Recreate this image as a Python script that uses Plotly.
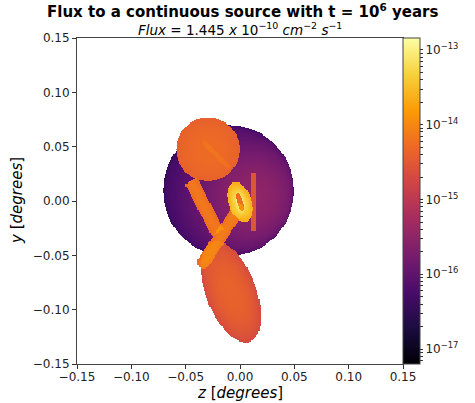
import numpy as np
import plotly.graph_objects as go

# ---- axes / ticks ----
axis_ticks = [-0.15, -0.10, -0.05, 0.00, 0.05, 0.10, 0.15]
cbar_exponents = [-17, -16, -15, -14, -13]
cbar_range = [-17.2, -12.84]
grid_n = 300

# ---- source components (centre z, centre y, sizes, fluxes) ----
disc_center = [-0.0105, 0.0095]
disc_radius = 0.0603
disc_floor_flux = 2.4e-17
disc_base_flux = 3.4e-17
disc_peak_flux = 2.8e-16
disc_peak_center = [0.018, 0.002]
disc_peak_sigma = 0.034

circle_center = [-0.0295, 0.0475]
circle_radius = 0.0292
circle_flux = 3.9e-15
circle_core_flux = 1.3e-15

streak_start = [-0.034, 0.0543]
streak_end = [-0.0092, 0.030]
streak_halfwidth = 0.0022
streak_flux = 1.2e-15

left_bar_start = [-0.0451, 0.0184]
left_bar_end = [-0.0203, -0.0294]
left_bar_halfwidth = 0.0063
left_bar_flux = 6.0e-15

low_bar_start = [-0.0019, -0.0082]
low_bar_end = [-0.0335, -0.0565]
low_bar_halfwidth = 0.0059
low_bar_flux = 6.5e-15

vbar_z = 0.0124
vbar_halfwidth = 0.0024
vbar_y = [-0.0276, 0.026]
vbar_flux = 2.6e-15

ellipse_center = [-0.0083, -0.0837]
ellipse_axes = [0.049, 0.023]   # semi-major, semi-minor
ellipse_tilt_deg = 21
ellipse_edge_flux = 2.0e-15
ellipse_core_flux = 2.2e-15

ring_center = [0.0, -0.0009]
ring_outer_axes = [0.0190, 0.0105]
ring_inner_axes = [0.0085, 0.0028]
ring_tilt_deg = 18
ring_edge_flux = 2.2e-14
ring_hole_flux = 5.5e-15

# ---- build image ----
coords = np.linspace(-0.15, 0.15, grid_n)
Z, Y = np.meshgrid(coords, coords)
F = np.zeros_like(Z)


def rot_rho(cz, cy, a_major, a_minor, tilt):
    t = np.deg2rad(tilt)
    dz, dy = Z - cz, Y - cy
    p = -dz * np.sin(t) + dy * np.cos(t)
    q = dz * np.cos(t) + dy * np.sin(t)
    return np.sqrt((p / a_major) ** 2 + (q / a_minor) ** 2)


def seg(start, end, hw, capsule=False):
    sz, sy = start
    ez, ey = end
    vz, vy = ez - sz, ey - sy
    L2 = vz * vz + vy * vy
    t = ((Z - sz) * vz + (Y - sy) * vy) / L2
    tc = np.clip(t, 0, 1)
    d = np.hypot(Z - (sz + tc * vz), Y - (sy + tc * vy))
    if capsule:
        m = d <= hw
    else:
        m = (t >= 0) & (t <= 1) & (d <= hw)
    return m, d


# disc
r = np.hypot(Z - disc_center[0], Y - disc_center[1])
m = r <= disc_radius
limb = np.clip(1 - (r / disc_radius) ** 2, 0, 1) ** 0.25
dp = np.hypot(Z - disc_peak_center[0], Y - disc_peak_center[1])
F[m] += (disc_floor_flux + (disc_base_flux + disc_peak_flux *
         np.exp(-dp ** 2 / (2 * disc_peak_sigma ** 2))) * limb)[m]

# circle
r = np.hypot(Z - circle_center[0], Y - circle_center[1])
m = r <= circle_radius
F[m] += (circle_flux + circle_core_flux * (1 - (r / circle_radius) ** 2))[m]
ms, d = seg(streak_start, streak_end, streak_halfwidth)
ms &= m
F[ms] += streak_flux

# bars
mb, d = seg(left_bar_start, left_bar_end, left_bar_halfwidth)
F[mb] += (left_bar_flux * (0.8 + 0.35 * (1 - (d / left_bar_halfwidth) ** 2)))[mb]
mb, d = seg(low_bar_start, low_bar_end, low_bar_halfwidth, capsule=True)
F[mb] += (low_bar_flux * (0.8 + 0.35 * (1 - (d / low_bar_halfwidth) ** 2)))[mb]
mv = (np.abs(Z - vbar_z) <= vbar_halfwidth) & (Y >= vbar_y[0]) & (Y <= vbar_y[1])
F[mv] += vbar_flux

# ellipse
rho = rot_rho(ellipse_center[0], ellipse_center[1], ellipse_axes[0], ellipse_axes[1], ellipse_tilt_deg)
m = rho <= 1
F[m] += (ellipse_edge_flux + ellipse_core_flux * (1 - rho ** 2))[m]

# ring
rho_o = rot_rho(ring_center[0], ring_center[1], ring_outer_axes[0], ring_outer_axes[1], ring_tilt_deg)
rho_i = rot_rho(ring_center[0], ring_center[1], ring_inner_axes[0], ring_inner_axes[1], ring_tilt_deg)
m_ring = (rho_o <= 1) & (rho_i > 1)
F[m_ring] += (ring_edge_flux * np.clip(rho_o, 0.3, 1) ** -1.2)[m_ring]
F[rho_i <= 1] += ring_hole_flux

logF = np.where(F > 0, np.log10(np.where(F > 0, F, 1)), np.nan)

# ---- colorbar ticks ----
cb_vals, cb_text = [], []
for e in range(-18, -12):
    for k in range(1, 10):
        v = e + np.log10(k)
        if cbar_range[0] <= v <= cbar_range[1]:
            cb_vals.append(v)
            cb_text.append(f"10<sup>\u2212{abs(e)}</sup>" if k == 1 else "")

font = "DejaVu Sans"
fig = go.Figure(go.Heatmap(
    x=coords, y=coords, z=logF,
    colorscale="Inferno", zmin=cbar_range[0], zmax=cbar_range[1],
    hoverongaps=False,
    colorbar=dict(
        x=1.0, xanchor="left", xref="paper", xpad=0, ypad=0,
        y=0.5, yanchor="middle", len=1, lenmode="fraction",
        thickness=17, outlinewidth=1, outlinecolor="#444",
        tickmode="array", tickvals=cb_vals, ticktext=cb_text,
        ticks="outside", ticklen=3, tickcolor="#333",
        tickfont=dict(family=font, size=12, color="#222"),
    ),
))

axis_common = dict(
    range=[-0.15, 0.15], tickmode="array", tickvals=axis_ticks,
    tickformat=".2f", ticks="outside", ticklen=4, tickcolor="#333",
    showline=True, linecolor="#444", linewidth=1, mirror=True,
    showgrid=False, zeroline=False,
    tickfont=dict(family=font, size=12, color="#222"),
)
fig.update_xaxes(**axis_common, ticklabelstandoff=-2)
fig.update_yaxes(**axis_common)

fig.update_layout(
    width=475, height=403,
    margin=dict(l=77, r=72, t=38, b=39),
    paper_bgcolor="white", plot_bgcolor="white",
    showlegend=False,
    annotations=[
        dict(text="<b>Flux to a continuous source with t = 10<sup>6</sup> years</b>",
             xref="paper", yref="paper", x=0.508, y=1.083, xanchor="center", yanchor="middle",
             showarrow=False, font=dict(family=font, size=15, color="black")),
        dict(text="<i>Flux</i> = 1.445 <i>x</i> 10<sup>\u221210</sup> <i>cm</i><sup>\u22122</sup> <i>s</i><sup>\u22121</sup>",
             xref="paper", yref="paper", x=0.5, y=1.029, xanchor="center", yanchor="middle",
             showarrow=False, font=dict(family=font, size=13.5, color="black")),
        dict(text="<i>z</i> [<i>degrees</i>]",
             xref="paper", yref="paper", x=0.5, y=-0.088, xanchor="center", yanchor="middle",
             showarrow=False, font=dict(family=font, size=15, color="black")),
        dict(text="<i>y</i> [<i>degrees</i>]", textangle=-90,
             xref="paper", yref="paper", x=-0.184, y=0.5, xanchor="center", yanchor="middle",
             showarrow=False, font=dict(family=font, size=15, color="black")),
    ],
)

fig.write_html("out.html", config={"displayModeBar": False},
               post_script="document.body.style.margin='0px';")
